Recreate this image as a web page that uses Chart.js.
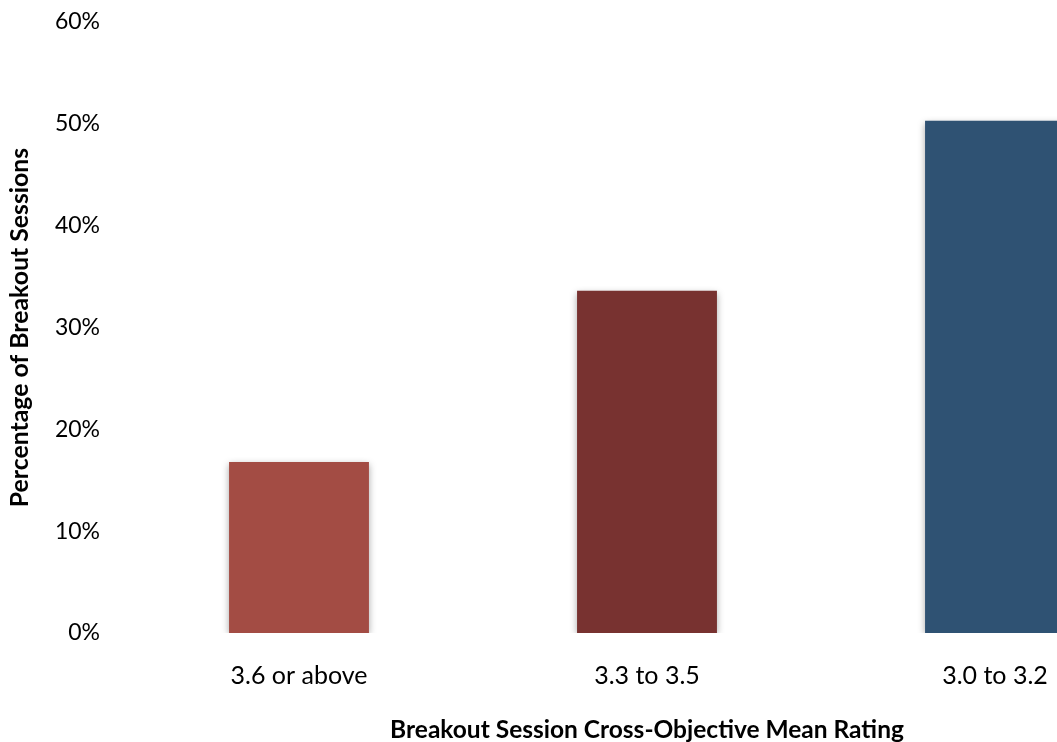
<!DOCTYPE html>
<html>
<head>
<meta charset="utf-8">
<script src="https://cdn.jsdelivr.net/npm/chart.js@4.4.1/dist/chart.umd.min.js"></script>
<style>
  html, body { margin: 0; padding: 0; background: #fff; overflow: hidden; }
  #wrap { width: 1170px; height: 742px; }
</style>
</head>
<body>
<div id="wrap"><canvas id="c" width="1170" height="742"></canvas></div>
<script>
const categories = ['3.6 or above', '3.3 to 3.5', '3.0 to 3.2'];
const sessionShare = [16.8, 33.6, 50.3];
const barColors = ['#A34C44', '#783230', '#2F5273'];
const yTicks = [0, 10, 20, 30, 40, 50, 60];

const FONT = 'Lato, "Open Sans", sans-serif';

// soft drop shadow behind the bars
const barShadow = {
  id: 'barShadow',
  beforeDatasetsDraw(chart) {
    const ctx = chart.ctx;
    ctx.save();
    ctx.shadowColor = 'rgba(0,0,0,0.35)';
    ctx.shadowBlur = 7;
    ctx.shadowOffsetX = 0;
    ctx.shadowOffsetY = 2;
  },
  afterDatasetsDraw(chart) {
    chart.ctx.restore();
  }
};

new Chart(document.getElementById('c'), {
  type: 'bar',
  data: {
    labels: categories,
    datasets: [{
      data: sessionShare,
      backgroundColor: barColors,
      borderWidth: 0,
      barPercentage: 0.402,
      categoryPercentage: 1.0
    }]
  },
  options: {
    responsive: false,
    animation: false,
    devicePixelRatio: 1,
    layout: { padding: { top: 22, left: 0, right: 1, bottom: 0 } },
    plugins: { legend: { display: false }, tooltip: { enabled: false } },
    scales: {
      x: {
        afterFit(axis) { axis.height = 109; },
        grid: { display: false, drawTicks: false },
        border: { display: false },
        ticks: { color: '#000', font: { family: FONT, size: 25 }, padding: 28 },
        title: {
          display: true,
          text: 'Breakout Session Cross-Objective Mean Rating',
          color: '#000',
          font: { family: FONT, size: 24.5, weight: 'bold', lineHeight: 1 },
          padding: { top: 0, bottom: 0 }
        }
      },
      y: {
        min: 0,
        max: 60,
        afterFit(axis) {
          axis.width = 125;
          // only half a label of room above the top tick
          axis.paddingTop = 14;
          axis.paddingBottom = 14;
        },
        afterBuildTicks(axis) { axis.ticks = yTicks.map(v => ({ value: v })); },
        grid: { display: false, drawTicks: false },
        border: { display: false },
        ticks: {
          color: '#000',
          font: { family: FONT, size: 23 },
          padding: 25,
          callback: v => v + '%'
        },
        title: {
          display: true,
          text: 'Percentage of Breakout Sessions',
          color: '#000',
          font: { family: FONT, size: 24.8, weight: 'bold', lineHeight: 1 },
          padding: { top: 8, bottom: 0 }
        }
      }
    }
  },
  plugins: [barShadow]
});
</script>
</body>
</html>
